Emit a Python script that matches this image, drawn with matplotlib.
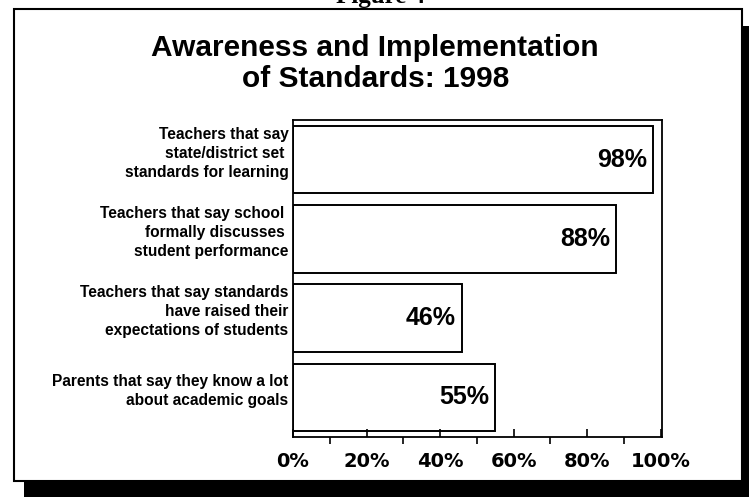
import matplotlib
matplotlib.use("Agg")
import matplotlib.pyplot as plt
from matplotlib.patches import Rectangle
from matplotlib.ticker import MultipleLocator, FuncFormatter
import matplotlib.transforms as mtransforms

categories = [
    "Teachers that say\nstate/district set \nstandards for learning",
    "Teachers that say school \nformally discusses \nstudent performance",
    "Teachers that say standards\nhave raised their\nexpectations of students",
    "Parents that say they know a lot\nabout academic goals",
]
values = [98, 88, 46, 55]
value_labels = ["98%", "88%", "46%", "55%"]
title_lines = ["Awareness and Implementation", "of Standards: 1998"]
tick_values = [0, 20, 40, 60, 80, 100]

W, H = 749, 499
fig = plt.figure(figsize=(W / 100, H / 100), dpi=100)
fig.patch.set_facecolor("white")


def fx(px):
    return px / W


def fy(py):
    return 1 - py / H


# shadow + framed box
fig.patches.append(Rectangle((fx(24), fy(497)), fx(760) - fx(24), fy(26) - fy(497),
                             transform=fig.transFigure, facecolor="black",
                             edgecolor="none", zorder=-3))
fig.patches.append(Rectangle((fx(14), fy(481)), fx(742) - fx(14), fy(9) - fy(481),
                             transform=fig.transFigure, facecolor="white",
                             edgecolor="black", linewidth=1.5, zorder=-2))

# cut-off caption at top (as in the scanned reference)
fig.text(fx(381), fy(3), "Figure 4", ha="center", va="baseline",
         family="Liberation Serif", fontweight="bold", fontsize=18)

# title
fig.text(fx(375), fy(56), title_lines[0], ha="center", va="baseline",
         family="Liberation Sans", fontweight="bold", fontsize=21.5)
fig.text(fx(376), fy(87), title_lines[1], ha="center", va="baseline",
         family="Liberation Sans", fontweight="bold", fontsize=21.5)

ax = fig.add_axes([fx(293), fy(437), fx(662) - fx(293), fy(120) - fy(437)])
ax.set_facecolor("white")
pos = list(range(len(values)))
ax.barh(pos, values, height=0.85, color="white", edgecolor="black", linewidth=1.4)
ax.set_xlim(0, 100.4)
ax.set_ylim(len(values) - 0.5, -0.5)

for sp in ax.spines.values():
    sp.set_linewidth(1.3)

ax.set_yticks([])
ax.set_xticks(tick_values)
ax.xaxis.set_minor_locator(MultipleLocator(10))
ax.xaxis.set_major_formatter(FuncFormatter(lambda v, p: f"{int(round(v))}%"))
ax.tick_params(axis="x", which="major", direction="in", length=6, width=1.2, pad=11,
               labelsize=14)
ax.tick_params(axis="x", which="minor", direction="out", length=5, width=1.2)
for lab in ax.get_xticklabels():
    lab.set_fontweight("bold")
    lab.set_family("DejaVu Sans")

# value labels inside bars
off = mtransforms.offset_copy(ax.transData, fig=fig, x=-6, y=0, units="dots")
for i, (v, t) in enumerate(zip(values, value_labels)):
    ax.text(v, i, t, transform=off, ha="right", va="center",
            family="Liberation Sans", fontweight="bold", fontsize=18)

# category labels
trans = mtransforms.blended_transform_factory(ax.transAxes, ax.transData)
for i, c in enumerate(categories):
    ax.text(-0.012, i - 0.08, c, transform=trans, ha="right", va="center",
            multialignment="right", family="Liberation Sans", fontweight="bold",
            fontsize=11.2, linespacing=1.32)

fig.savefig("out.png", dpi=100, facecolor="white")
